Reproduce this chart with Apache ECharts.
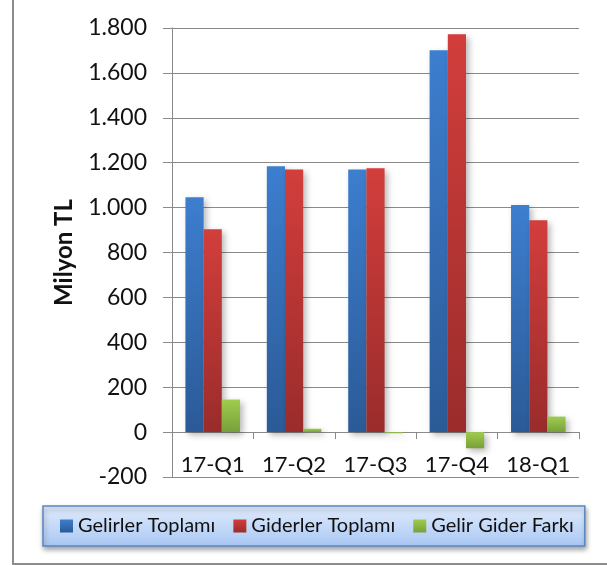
<!DOCTYPE html>
<html>
<head>
<meta charset="utf-8">
<script src="https://cdn.jsdelivr.net/npm/echarts@6/dist/echarts.min.js"></script>
<style>
  html, body { margin: 0; padding: 0; background: #fff; }
  .wrap { position: relative; width: 607px; height: 565px; overflow: hidden; }
  #chart { position: absolute; left: 0; top: 0; width: 607px; height: 565px; }
  .frame {
    position: absolute; left: 12px; top: -4px; width: 640px; height: 569px;
    box-sizing: border-box; border: 2px solid #8c8c8c; pointer-events: none;
  }
</style>
</head>
<body>
<div class="wrap">
  <div id="chart"></div>
  <div class="frame"></div>
</div>
<script>
const quarters = ['17-Q1', '17-Q2', '17-Q3', '17-Q4', '18-Q1'];
const gelirler = [1046, 1184, 1170, 1701, 1012];
const giderler = [904, 1170, 1175, 1772, 944];
const fark = [145, 15, -5, -72, 69];

const seriesNames = ['Gelirler Toplamı', 'Giderler Toplamı', 'Gelir Gider Farkı'];

const FONT = 'Lato, "Open Sans", sans-serif';
const gridColor = '#8a8a8a';

// bar fill: lighter at the top, darker toward the bottom
const barFill = (top, bottom) => new echarts.graphic.LinearGradient(0, 0, 0, 1, [
  { offset: 0, color: top },
  { offset: 1, color: bottom }
]);

const trNumber = (v) => {
  const s = String(Math.abs(v)).replace(/\B(?=(\d{3})+(?!\d))/g, '.');
  return v < 0 ? '-' + s : s;
};

const barShadow = {
  shadowBlur: 6,
  shadowColor: 'rgba(0, 0, 0, 0.28)',
  shadowOffsetX: 3,
  shadowOffsetY: 3
};

const chart = echarts.init(document.getElementById('chart'));

chart.setOption({
  animation: false,
  textStyle: { fontFamily: FONT },
  grid: { left: 172, right: 28, top: 28, bottom: 88 },
  legend: {
    data: seriesNames,
    left: 43,
    top: 506,
    padding: [10, 11, 10, 17],
    itemGap: 18,
    itemWidth: 13,
    itemHeight: 13,
    icon: 'rect',
    textStyle: { fontFamily: FONT, fontSize: 20, color: '#111' },
    borderColor: '#5a86c2',
    borderWidth: 1.5,
    borderRadius: 0,
    backgroundColor: new echarts.graphic.LinearGradient(0, 0, 0, 1, [
      { offset: 0, color: '#e2ecfc' },
      { offset: 1, color: '#a8c7f4' }
    ]),
    shadowBlur: 5,
    shadowColor: 'rgba(0, 0, 0, 0.35)',
    shadowOffsetX: 1,
    shadowOffsetY: 3
  },
  xAxis: {
    type: 'category',
    data: quarters,
    position: 'bottom',
    // sit the category axis on the zero line (one 200 step above the bottom)
    offset: -44.9,
    axisLine: { onZero: false, lineStyle: { color: gridColor, width: 1 } },
    axisTick: { show: true, length: 7, lineStyle: { color: gridColor } },
    axisLabel: { interval: 0, fontFamily: FONT, fontSize: 22, color: '#111', margin: 22 }
  },
  yAxis: {
    type: 'value',
    min: -200,
    max: 1800,
    interval: 200,
    name: 'Milyon TL',
    nameLocation: 'middle',
    nameGap: 96,
    nameTextStyle: { fontFamily: FONT, fontSize: 24, fontWeight: 'bold', color: '#111' },
    axisLine: { show: true, lineStyle: { color: gridColor, width: 1 } },
    axisTick: { show: true, length: 9, lineStyle: { color: gridColor } },
    axisLabel: { fontFamily: FONT, fontSize: 23, color: '#111', margin: 25, formatter: trNumber },
    splitLine: { lineStyle: { color: gridColor, width: 1 } }
  },
  series: [
    {
      name: seriesNames[0],
      type: 'bar',
      data: gelirler,
      barGap: '0%',
      barCategoryGap: '33%',
      itemStyle: { color: barFill('#3d7ecf', '#2b5a97'), ...barShadow }
    },
    {
      name: seriesNames[1],
      type: 'bar',
      data: giderler,
      barGap: '0%',
      barCategoryGap: '33%',
      itemStyle: { color: barFill('#d23e3c', '#9a2c2b'), ...barShadow }
    },
    {
      name: seriesNames[2],
      type: 'bar',
      data: fark,
      barGap: '0%',
      barCategoryGap: '33%',
      itemStyle: { color: barFill('#9fcc4e', '#78a03a'), ...barShadow }
    }
  ]
});
</script>
</body>
</html>
